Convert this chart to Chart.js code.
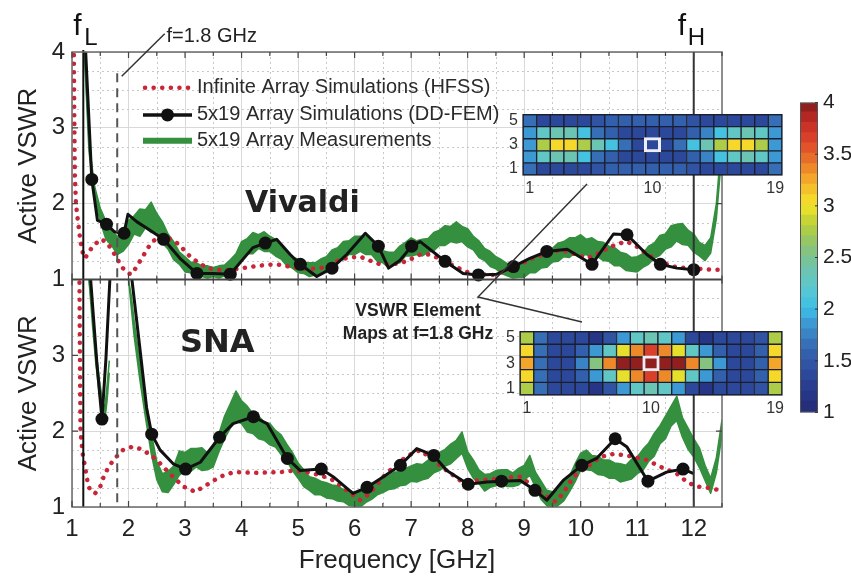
<!DOCTYPE html>
<html><head><meta charset="utf-8">
<script src="https://cdn.jsdelivr.net/npm/chart.js@4/dist/chart.umd.min.js"></script>
<style>
html,body{margin:0;padding:0;background:#fff;}
#wrap{position:relative;width:851px;height:576px;overflow:hidden;background:#fff;}
canvas{position:absolute;}
#main{left:0;top:0;width:851px;height:576px;}
#hmTop{left:500px;top:100px;width:290px;height:100px;}
#hmBot{left:497px;top:317px;width:293px;height:103px;}
#cbar{left:795px;top:85px;width:56px;height:345px;}
</style></head><body>
<div id="wrap">
<canvas id="main" width="851" height="576"></canvas>
<canvas id="hmTop" width="290" height="100"></canvas>
<canvas id="hmBot" width="293" height="103"></canvas>
<canvas id="cbar" width="56" height="345"></canvas>
</div>
<script>
// ---------------- data ----------------
const xTicks = [1,2,3,4,5,6,7,8,9,10,11,12];
const yTicksTop = [1,2,3,4];
const yTicksBottom = [1,2,3];
const yMinor = [1.25,1.5,1.75,2.25,2.5,2.75,3.25,3.5,3.75];
const legendLabels = ['Infinite Array Simulations (HFSS)','5x19 Array Simulations (DD-FEM)','5x19 Array Measurements'];
const xTitle = 'Frequency [GHz]';
const yTitle = 'Active VSWR';

// Vivaldi (top panel)
const vivHfssX = [1.03,1.04,1.05,1.07,1.1,1.15,1.2,1.23,1.35,1.5,1.6,1.7,1.8,1.9,2.0,2.06,2.15,2.25,2.38,2.5,2.62,2.75,2.9,3.05,3.2,3.35,3.5,3.7,3.85,4.0,4.2,4.4,4.63,4.85,5.04,5.2,5.4,5.57,5.74,5.9,6.1,6.27,6.45,6.6,6.8,7.0,7.16,7.3,7.5,7.75,7.99,8.2,8.45,8.7,8.93,9.15,9.4,9.6,9.76,9.95,10.11,10.3,10.47,10.65,10.82,11.0,11.18,11.35,11.53,11.7,11.88,12.1,12.3,12.47];
const vivHfssY = [4.3,3.2,2.4,2.0,1.8,1.5,1.32,1.28,1.42,1.53,1.5,1.4,1.27,1.15,1.08,1.07,1.18,1.3,1.46,1.55,1.57,1.53,1.46,1.33,1.24,1.17,1.13,1.12,1.13,1.15,1.17,1.19,1.2,1.17,1.15,1.14,1.15,1.2,1.26,1.29,1.3,1.25,1.2,1.2,1.21,1.27,1.33,1.33,1.28,1.18,1.1,1.07,1.06,1.12,1.2,1.28,1.35,1.38,1.37,1.32,1.28,1.34,1.41,1.47,1.5,1.43,1.33,1.26,1.2,1.16,1.15,1.14,1.13,1.13];
const vivSimX = [1.21,1.35,1.45,1.61,1.75,1.92,1.99,2.15,2.32,2.62,2.91,3.21,3.5,3.8,4.2,4.42,4.62,4.86,5.04,5.33,5.6,5.86,6.19,6.42,6.6,6.8,7.01,7.16,7.6,7.92,8.19,8.52,8.81,9.1,9.4,9.76,10.2,10.58,10.82,11.17,11.41,11.7,12.0];
const vivSimY = [4.5,2.32,1.78,1.73,1.63,1.61,1.86,1.76,1.68,1.53,1.28,1.08,1.08,1.07,1.42,1.48,1.53,1.33,1.2,1.04,1.15,1.33,1.61,1.44,1.15,1.25,1.44,1.5,1.24,1.08,1.06,1.07,1.17,1.28,1.37,1.4,1.2,1.6,1.59,1.33,1.2,1.15,1.13];
const vivMarkX = [1.35,1.61,1.92,2.62,3.21,3.8,4.42,5.04,5.6,6.42,7.01,7.6,8.19,8.81,9.4,10.2,10.82,11.41,12.0];
const vivMarkY = [2.32,1.73,1.61,1.53,1.08,1.07,1.48,1.2,1.15,1.44,1.44,1.24,1.06,1.17,1.37,1.2,1.59,1.2,1.13];
const vivMeasX = [1.22,
 1.3,1.4,1.5,1.6,1.7,1.8,1.9,2.0,2.1,2.2,
 2.3,2.4,2.5,2.6,2.7,2.8,2.9,3.0,3.1,3.2,
 3.3,3.4,3.5,3.6,3.7,3.8,3.9,4.0,4.1,4.2,
 4.3,4.4,4.5,4.6,4.7,4.8,4.9,5.0,5.1,5.2,
 5.3,5.4,5.5,5.6,5.7,5.8,5.9,6.0,6.1,6.2,
 6.3,6.4,6.5,6.6,6.7,6.8,6.9,7.0,7.1,7.2,
 7.3,7.4,7.5,7.6,7.7,7.8,7.9,8.0,8.1,8.2,
 8.3,8.4,8.5,8.6,8.7,8.8,8.9,9.0,9.1,9.2,
 9.3,9.4,9.5,9.6,9.7,9.8,9.9,10.0,10.1,10.2,
 10.3,10.4,10.5,10.6,10.7,10.8,10.9,11.0,11.1,11.2,
 11.3,11.4,11.5,11.6,11.7,11.8,11.9,12.0,12.1,12.2,
 12.3,12.4,12.5];
const vivMeasY = [4.0,
 2.75,2.15,1.85,1.65,1.55,1.45,1.47,1.62,1.72,1.75,
 1.8,1.82,1.75,1.62,1.5,1.38,1.28,1.2,1.16,1.13,
 1.11,1.1,1.1,1.1,1.12,1.16,1.26,1.38,1.44,1.48,
 1.5,1.5,1.47,1.42,1.35,1.28,1.22,1.18,1.15,1.13,
 1.14,1.17,1.22,1.28,1.33,1.38,1.42,1.45,1.47,1.45,
 1.42,1.35,1.3,1.26,1.28,1.33,1.4,1.43,1.42,1.42,
 1.45,1.5,1.55,1.58,1.6,1.62,1.6,1.55,1.48,1.4,
 1.33,1.27,1.22,1.17,1.13,1.11,1.11,1.13,1.17,1.2,
 1.24,1.28,1.32,1.36,1.4,1.42,1.45,1.45,1.43,1.42,
 1.4,1.37,1.34,1.3,1.27,1.23,1.2,1.2,1.25,1.32,
 1.38,1.45,1.5,1.57,1.62,1.6,1.55,1.48,1.4,1.35,
 1.45,1.9,2.8];
const vivMeasSpread = [0.04,
 .06,.08,.09,.12,.1,.12,.1,.16,.12,.18,
 .12,.2,.12,.14,.1,.12,.08,.1,.07,.09,
 .07,.08,.06,.08,.07,.1,.08,.12,.1,.14,
 .09,.13,.1,.11,.08,.1,.07,.09,.07,.09,
 .08,.1,.08,.11,.09,.12,.09,.12,.1,.12,
 .09,.11,.08,.1,.08,.11,.09,.12,.09,.11,
 .09,.12,.1,.13,.1,.14,.1,.12,.09,.11,
 .08,.1,.08,.09,.08,.09,.08,.1,.08,.11,
 .09,.12,.09,.12,.1,.13,.1,.14,.1,.13,
 .1,.12,.1,.12,.09,.11,.09,.1,.09,.12,
 .1,.13,.1,.14,.11,.14,.1,.12,.09,.1,
 .1,.1,.1];

// SNA (bottom panel)
const snaHfssX = [1.13,1.14,1.15,1.19,1.23,1.29,1.35,1.41,1.5,1.58,1.73,1.9,2.05,2.14,2.32,2.5,2.73,2.97,3.18,3.38,3.62,3.86,4.27,4.68,4.92,5.16,5.39,5.63,5.86,6.1,6.27,6.51,6.75,6.95,7.16,7.39,7.63,7.87,8.22,8.58,8.93,9.16,9.4,9.55,9.69,9.87,10.11,10.35,10.58,10.82,11.17,11.41,11.7,11.88,12.05,12.28,12.47];
const snaHfssY = [4.3,3.0,2.0,1.7,1.53,1.27,1.2,1.18,1.27,1.44,1.62,1.75,1.79,1.79,1.72,1.62,1.44,1.27,1.2,1.29,1.4,1.46,1.45,1.46,1.48,1.46,1.42,1.35,1.22,1.09,1.18,1.4,1.57,1.68,1.75,1.62,1.48,1.35,1.35,1.38,1.4,1.27,1.14,1.07,1.18,1.4,1.53,1.66,1.7,1.68,1.62,1.53,1.44,1.33,1.27,1.25,1.22];
const snaSimX = [1.25,1.33,1.44,1.53,1.6,1.67,1.72,2.0,2.06,2.2,2.32,2.41,2.56,2.79,3.01,3.27,3.61,3.85,4.21,4.45,4.81,5.04,5.41,5.62,5.97,6.22,6.51,6.81,7.1,7.4,7.63,8.01,8.34,8.6,8.93,9.19,9.4,9.69,10.02,10.28,10.61,10.82,11.19,11.52,11.81,12.0];
const snaSimY = [4.6,4.0,2.9,2.16,2.95,4.0,4.6,4.6,4.0,3.1,2.31,1.96,1.75,1.57,1.5,1.59,1.92,2.1,2.19,2.1,1.64,1.48,1.5,1.4,1.18,1.26,1.4,1.55,1.77,1.68,1.48,1.3,1.33,1.34,1.35,1.22,1.09,1.35,1.55,1.64,1.9,1.79,1.34,1.46,1.5,1.44];
const snaMarkX = [1.53,2.41,3.01,3.61,4.21,4.81,5.41,6.22,6.81,7.4,8.01,8.6,9.19,10.02,10.61,11.19,11.81];
const snaMarkY = [2.16,1.96,1.5,1.92,2.19,1.64,1.5,1.26,1.55,1.68,1.3,1.34,1.22,1.55,1.9,1.34,1.5];
const snaMeasX = [1.3,1.36,1.42,1.48,1.54,1.58,1.62,1.66,1.8,2.0,2.05,
 2.1,2.2,2.3,2.4,2.5,2.6,2.7,2.8,2.9,3.0,
 3.1,3.2,3.3,3.4,3.5,3.6,3.7,3.8,3.9,4.0,
 4.1,4.2,4.3,4.4,4.5,4.6,4.7,4.8,4.9,5.0,
 5.1,5.2,5.3,5.4,5.5,5.6,5.7,5.8,5.9,6.0,
 6.1,6.2,6.3,6.4,6.5,6.6,6.7,6.8,6.9,7.0,
 7.1,7.2,7.3,7.4,7.5,7.6,7.7,7.8,7.9,8.0,
 8.1,8.2,8.3,8.4,8.5,8.6,8.7,8.8,8.9,9.0,
 9.1,9.2,9.3,9.4,9.5,9.6,9.7,9.8,9.9,10.0,
 10.1,10.2,10.3,10.4,10.5,10.6,10.7,10.8,10.9,11.0,
 11.1,11.2,11.3,11.4,11.5,11.6,11.7,11.8,11.9,12.0,
 12.1,12.2,12.3,12.4,12.5];
const snaMeasY = [4.0,3.5,3.0,2.6,2.3,2.22,2.5,2.85,null,4.0,3.7,
 3.35,2.8,2.3,1.85,1.48,1.32,1.33,1.42,1.58,1.6,
 1.62,1.65,1.63,1.6,1.66,1.85,2.05,2.2,2.33,2.25,
 2.16,2.1,2.05,2.0,1.96,1.9,1.82,1.72,1.6,1.48,
 1.38,1.31,1.27,1.25,1.22,1.2,1.18,1.15,1.12,1.1,
 1.1,1.14,1.2,1.25,1.3,1.32,1.35,1.37,1.4,1.44,
 1.45,1.46,1.5,1.55,1.6,1.65,1.7,1.76,1.85,1.62,
 1.5,1.4,1.32,1.35,1.38,1.4,1.38,1.36,1.4,1.45,
 1.55,1.36,1.22,1.12,1.08,1.12,1.2,1.3,1.45,1.6,
 1.62,1.58,1.55,1.52,1.5,1.48,1.45,1.45,1.5,1.55,
 1.62,1.72,1.82,1.95,2.05,2.2,2.3,2.05,1.9,1.78,
 1.65,1.45,1.28,1.55,2.05];
const snaMeasSpread = [0,.08,.1,.1,.1,.08,.1,.08,null,0,.08,
 .1,.12,.12,.14,.12,.12,.14,.12,.16,.12,
 .15,.12,.15,.11,.13,.12,.15,.16,.2,.15,
 .17,.13,.15,.12,.14,.11,.13,.11,.12,.1,
 .11,.09,.11,.09,.1,.09,.1,.08,.1,.09,
 .1,.08,.1,.09,.11,.09,.11,.09,.11,.1,
 .12,.1,.12,.1,.12,.11,.13,.12,.14,.11,
 .12,.09,.11,.09,.1,.09,.11,.09,.11,.1,
 .13,.1,.12,.1,.12,.1,.12,.1,.12,.11,
 .13,.1,.12,.1,.12,.1,.12,.1,.13,.11,
 .14,.12,.15,.12,.15,.13,.16,.13,.14,.12,
 .13,.1,.1,.1,.1];

// VSWR element maps at f = 1.8 GHz (rows listed 5 -> 1, columns 1 -> 19)
const heatCols = ['1','2','3','4','5','6','7','8','9','10','11','12','13','14','15','16','17','18','19'];
const heatRows = [5,4,3,2,1];
const heatColTicks = [1,10,19];
const heatRowTicks = [1,3,5];
const vivMap = [
 [1.7,1.3,1.3,1.35,1.4,1.45,1.5,1.5,1.55,1.55,1.55,1.5,1.45,1.4,1.35,1.3,1.3,1.3,1.7],
 [1.85,2.3,2.35,2.35,2.05,1.7,1.5,1.4,1.3,1.3,1.3,1.4,1.5,1.75,2.05,2.3,2.35,2.3,1.85],
 [1.85,2.7,3.0,3.0,2.75,2.35,2.0,1.6,1.35,1.4,1.3,1.6,2.0,2.35,2.75,3.0,3.0,2.7,1.85],
 [1.85,2.3,2.35,2.35,2.05,1.7,1.5,1.4,1.3,1.3,1.3,1.4,1.5,1.75,2.05,2.3,2.35,2.3,1.85],
 [1.7,1.3,1.3,1.35,1.4,1.45,1.5,1.5,1.55,1.55,1.55,1.5,1.45,1.4,1.35,1.3,1.3,1.3,1.7]
];
const snaMap = [
 [2.75,1.6,1.35,1.35,1.3,1.2,1.45,1.8,2.2,2.4,2.2,1.8,1.35,1.1,1.3,1.3,1.3,1.45,2.75],
 [3.0,1.6,1.3,1.35,1.55,1.85,2.25,2.95,3.35,3.6,3.35,2.95,2.25,1.85,1.5,1.35,1.3,1.5,3.0],
 [3.3,1.6,1.3,1.4,1.75,2.5,3.35,3.95,3.95,4.0,3.95,3.95,3.35,2.5,1.85,1.4,1.3,1.5,3.2],
 [3.0,1.6,1.3,1.35,1.55,1.85,2.25,2.95,3.35,3.6,3.35,2.95,2.25,1.85,1.5,1.35,1.3,1.5,3.0],
 [2.75,1.6,1.35,1.35,1.3,1.2,1.45,1.8,2.2,2.4,2.2,1.8,1.35,1.1,1.3,1.3,1.3,1.45,2.75]
];
const selectedCell = {row: 3, col: '10'};
const cbTicks = [1,1.5,2,2.5,3,3.5,4];
const cbMin = 1, cbMax = 4, cbLevels = 30;

// ---------------- styles ----------------
const FONT = "'Liberation Sans', Arial, Helvetica, sans-serif";
const BOLD = "'DejaVu Sans', 'Liberation Sans', sans-serif";
const RED = 'rgb(200,38,56)';
const GREEN = 'rgb(52,143,62)';
const BLACK = '#111111';
const cmapStops = [[1.0,[35,42,117]],[1.2,[39,57,140]],[1.4,[46,77,159]],[1.6,[53,102,176]],[1.8,[60,140,204]],[2.0,[60,192,230]],[2.2,[92,200,207]],[2.4,[112,196,168]],[2.6,[140,196,114]],[2.8,[184,207,58]],[3.0,[245,228,40]],[3.2,[245,181,42]],[3.4,[236,122,42]],[3.6,[224,70,42]],[3.8,[197,45,38]],[4.0,[126,26,26]]];
function cmap(v){
  v = Math.max(cbMin, Math.min(cbMax, v));
  for (let i = 0; i < cmapStops.length - 1; i++){
    const [a, ca] = cmapStops[i], [b, cb] = cmapStops[i+1];
    if (v <= b){ const t = (v - a) / (b - a);
      return 'rgb(' + ca.map((c, k) => Math.round(c + (cb[k] - c) * t)).join(',') + ')'; }
  }
  return 'rgb(126,26,26)';
}
const step = (cbMax - cbMin) / cbLevels;
function cmapBand(v){ const l = Math.min(cbLevels - 1, Math.max(0, Math.floor((v - cbMin) / step))); return cmap(cbMin + (l + 0.5) * step); }

const pts = (xs, ys) => xs.map((x, i) => ({x, y: ys[i]}));
const band = (xs, ys, sp, sign) => xs.map((x, i) => ({x, y: ys[i] == null ? null : ys[i] + sign * sp[i]}));

function lineSet(data, axis, extra){
  return Object.assign({data, yAxisID: axis, clip: 0, pointRadius: 0, pointHoverRadius: 0, borderJoinStyle: 'round', tension: 0, fill: false}, extra);
}

const datasets = [
  // Vivaldi
  lineSet(pts(vivMarkX, vivMarkY), 'yT', {showLine: false, clip: 4, pointRadius: 6.5, pointHoverRadius: 6.5, pointBackgroundColor: BLACK, pointBorderColor: BLACK, pointBorderWidth: 0, order: 0}),
  lineSet(pts(vivSimX, vivSimY), 'yT', {borderColor: BLACK, borderWidth: 3, order: 1}),
  lineSet(pts(vivHfssX, vivHfssY), 'yT', {borderColor: RED, borderWidth: 4.5, borderDash: [0.1, 8.5], borderCapStyle: 'round', order: 2}),
  lineSet(band(vivMeasX, vivMeasY, vivMeasSpread, 1), 'yT', {borderColor: GREEN, backgroundColor: GREEN, borderWidth: 1.5, fill: '+1', order: 3}),
  lineSet(band(vivMeasX, vivMeasY, vivMeasSpread, -1), 'yT', {borderColor: GREEN, borderWidth: 1.5, order: 4}),
  // SNA
  lineSet(pts(snaMarkX, snaMarkY), 'yB', {showLine: false, clip: 4, pointRadius: 6.5, pointHoverRadius: 6.5, pointBackgroundColor: BLACK, pointBorderColor: BLACK, pointBorderWidth: 0, order: 0}),
  lineSet(pts(snaSimX, snaSimY), 'yB', {borderColor: BLACK, borderWidth: 3, order: 1}),
  lineSet(pts(snaHfssX, snaHfssY), 'yB', {borderColor: RED, borderWidth: 4.5, borderDash: [0.1, 8.5], borderCapStyle: 'round', order: 2}),
  lineSet(band(snaMeasX, snaMeasY, snaMeasSpread, 1), 'yB', {borderColor: GREEN, backgroundColor: GREEN, borderWidth: 1.5, fill: '+1', order: 3}),
  lineSet(band(snaMeasX, snaMeasY, snaMeasSpread, -1), 'yB', {borderColor: GREEN, borderWidth: 1.5, order: 4})
];

function yScale(ticks){
  return {
    type: 'linear', min: 1, max: 4, position: 'left', stack: 'panels', stackWeight: 1,
    afterBuildTicks: s => { s.ticks = ticks.map(v => ({value: v})); },
    afterFit: s => { s.width = 72; },
    grid: {color: '#d9d9d9', lineWidth: 1, drawTicks: false},
    border: {display: false},
    ticks: {font: {family: FONT, size: 24}, color: '#222', padding: 7},
    title: {display: true, text: yTitle, font: {family: FONT, size: 26}, color: '#222', padding: {top: 13, bottom: 0}}
  };
}

const deco = {
  id: 'deco',
  beforeDatasetsDraw(chart){
    const {ctx, chartArea: a, scales: {x, yT, yB}} = chart;
    ctx.save();
    ctx.strokeStyle = '#c8c8c8'; ctx.lineWidth = 1; ctx.setLineDash([2, 3]);
    ctx.beginPath();
    for (let v = 1.5; v < 12.5; v += 1){ const p = Math.round(x.getPixelForValue(v)) + 0.5; ctx.moveTo(p, a.top); ctx.lineTo(p, a.bottom); }
    for (const s of [yT, yB]) for (const v of yMinor){ const p = Math.round(s.getPixelForValue(v)) + 0.5; ctx.moveTo(a.left, p); ctx.lineTo(a.right, p); }
    ctx.stroke();
    ctx.restore();
  },
  afterDatasetsDraw(chart){
    const {ctx, chartArea: a, scales: {x, yT}} = chart;
    ctx.save();
    ctx.lineWidth = 2;
    ctx.strokeStyle = BLACK;
    let p = x.getPixelForValue(1.2);
    ctx.beginPath(); ctx.moveTo(p, a.top - 2); ctx.lineTo(p, a.bottom); ctx.stroke();
    ctx.strokeStyle = '#333';
    p = x.getPixelForValue(12);
    ctx.beginPath(); ctx.moveTo(p, a.top); ctx.lineTo(p, a.bottom); ctx.stroke();
    ctx.strokeStyle = '#555'; ctx.setLineDash([9, 6]);
    p = x.getPixelForValue(1.8);
    ctx.beginPath(); ctx.moveTo(p, yT.getPixelForValue(3.72)); ctx.lineTo(p, a.bottom); ctx.stroke();
    ctx.restore();
  },
  afterDraw(chart){
    const {ctx, chartArea: a, scales: {x, yT, yB}} = chart;
    const mid = yT.bottom;
    ctx.save();
    // panel frames
    ctx.strokeStyle = '#6a6a6a'; ctx.lineWidth = 1.5;
    ctx.strokeRect(a.left, a.top, a.right - a.left, a.bottom - a.top);
    ctx.strokeStyle = '#444'; ctx.lineWidth = 2;
    ctx.beginPath(); ctx.moveTo(a.left, mid); ctx.lineTo(a.right, mid); ctx.stroke();
    // tick marks
    ctx.strokeStyle = '#444'; ctx.lineWidth = 1.2;
    ctx.beginPath();
    for (let v = 1; v <= 12.5; v += 0.5){
      const p = x.getPixelForValue(v), L = Number.isInteger(v) ? 6 : 4;
      ctx.moveTo(p, a.top); ctx.lineTo(p, a.top + L);
      ctx.moveTo(p, mid - L); ctx.lineTo(p, mid + L);
      ctx.moveTo(p, a.bottom); ctx.lineTo(p, a.bottom - L);
    }
    for (const s of [yT, yB]) for (const v of [2, 3]){
      const p = s.getPixelForValue(v);
      ctx.moveTo(a.left, p); ctx.lineTo(a.left + 6, p);
      ctx.moveTo(a.right, p); ctx.lineTo(a.right - 6, p);
    }
    ctx.stroke();

    // legend
    const lx0 = a.left + 71, lx1 = a.left + 120, tx = a.left + 125;
    const ly = [yT.getPixelForValue(3.53), yT.getPixelForValue(3.17), yT.getPixelForValue(2.83)];
    ctx.lineCap = 'round';
    ctx.strokeStyle = RED; ctx.lineWidth = 4.5; ctx.setLineDash([0.1, 8.5]);
    ctx.beginPath(); ctx.moveTo(lx0 + 2, ly[0]); ctx.lineTo(lx1, ly[0]); ctx.stroke();
    ctx.setLineDash([]); ctx.lineCap = 'butt';
    ctx.strokeStyle = BLACK; ctx.lineWidth = 3.5;
    ctx.beginPath(); ctx.moveTo(lx0, ly[1]); ctx.lineTo(lx1, ly[1]); ctx.stroke();
    ctx.fillStyle = BLACK; ctx.beginPath(); ctx.arc((lx0 + lx1) / 2, ly[1], 6.5, 0, Math.PI * 2); ctx.fill();
    ctx.strokeStyle = GREEN; ctx.lineWidth = 6;
    ctx.beginPath(); ctx.moveTo(lx0, ly[2]); ctx.lineTo(lx1, ly[2]); ctx.stroke();
    ctx.fillStyle = '#2b2b2b'; ctx.font = '20px ' + FONT; ctx.textBaseline = 'middle'; ctx.textAlign = 'left';
    legendLabels.forEach((t, i) => ctx.fillText(t, tx, ly[i]));

    // panel names
    ctx.fillStyle = '#222';
    ctx.font = 'bold 30px ' + BOLD;
    ctx.fillText('Vivaldi', x.getPixelForValue(4.06), yT.getPixelForValue(1.99));
    ctx.font = 'bold 32px ' + BOLD;
    ctx.fillText('SNA', x.getPixelForValue(2.91), yB.getPixelForValue(3.16));

    // band edge labels
    ctx.textBaseline = 'alphabetic';
    ctx.fillStyle = '#111';
    const fl = x.getPixelForValue(1.2), fh = x.getPixelForValue(12);
    ctx.font = '30px ' + FONT; ctx.fillText('f', fl - 10, 35); ctx.fillText('f', fh - 16, 35);
    ctx.font = '24px ' + FONT; ctx.fillText('L', fl + 1, 45); ctx.fillText('H', fh - 6, 45);

    // f = 1.8 GHz annotation
    ctx.strokeStyle = '#333'; ctx.lineWidth = 1.5;
    ctx.beginPath();
    ctx.moveTo(x.getPixelForValue(1.8) + 4.5, yT.getPixelForValue(3.68));
    ctx.lineTo(x.getPixelForValue(2.64), yT.getPixelForValue(4.24));
    ctx.stroke();
    ctx.font = '20px ' + FONT; ctx.textBaseline = 'middle'; ctx.fillStyle = '#222';
    ctx.fillText('f=1.8 GHz', x.getPixelForValue(2.67), yT.getPixelForValue(4.2));

    // element map callout
    ctx.strokeStyle = '#333'; ctx.lineWidth = 1.5;
    ctx.beginPath(); ctx.moveTo(587, 184); ctx.lineTo(478, 297); ctx.lineTo(582, 322); ctx.stroke();
    ctx.textAlign = 'center'; ctx.fillStyle = '#222';
    ctx.font = 'bold 17.5px ' + FONT;
    ctx.fillText('VSWR Element', 418, 311);
    ctx.fillText('Maps at f=1.8 GHz', 418, 334);
    ctx.restore();
  }
};

new Chart(document.getElementById('main'), {
  type: 'line',
  data: {datasets},
  options: {
    responsive: false, animation: false, devicePixelRatio: 1,
    layout: {padding: {top: 52, right: 129, left: 0, bottom: 0}},
    plugins: {legend: {display: false}, tooltip: {enabled: false}},
    scales: {
      x: {
        type: 'linear', min: 1, max: 12.5, position: 'bottom',
        afterBuildTicks: s => { s.ticks = xTicks.map(v => ({value: v})); },
        afterFit: s => { s.height = 69; },
        grid: {color: '#d9d9d9', lineWidth: 1, drawTicks: false},
        border: {display: false},
        ticks: {font: {family: FONT, size: 24}, color: '#222', padding: 8, maxRotation: 0, autoSkip: false},
        title: {display: true, text: xTitle, font: {family: FONT, size: 26}, color: '#222', padding: {top: 0, bottom: 0}}
      },
      yB: yScale(yTicksBottom),
      yT: yScale(yTicksTop)
    }
  },
  plugins: [deco]
});

// ---------------- heat maps ----------------
const heatFrame = {
  id: 'heatFrame',
  afterDatasetsDraw(chart){
    const {ctx, chartArea: a} = chart;
    ctx.save(); ctx.strokeStyle = '#1b1e2e'; ctx.lineWidth = 1.2;
    ctx.strokeRect(a.left, a.top, a.right - a.left, a.bottom - a.top); ctx.restore();
  }
};
function makeHeat(id, map){
  const ds = map.map((row, r) => ({
    data: row.map((v, c) => ({x: heatCols[c], y: [heatRows[r] - 0.5, heatRows[r] + 0.5]})),
    backgroundColor: row.map(cmapBand),
    borderColor: '#1b1e2e', borderWidth: 1, borderSkipped: false,
    barPercentage: 1, categoryPercentage: 1, grouped: false
  }));
  ds.unshift({
    data: [{x: selectedCell.col, y: [selectedCell.row - 0.62, selectedCell.row + 0.62]}],
    backgroundColor: 'rgba(0,0,0,0)', borderColor: '#eeeef6', borderWidth: 3, borderSkipped: false,
    barPercentage: 1.25, categoryPercentage: 1, grouped: false
  });
  return new Chart(document.getElementById(id), {
    type: 'bar',
    data: {labels: heatCols, datasets: ds},
    options: {
      responsive: false, animation: false, devicePixelRatio: 1,
      layout: {padding: {top: 8, right: 8, left: 0, bottom: 0}},
      plugins: {legend: {display: false}, tooltip: {enabled: false}},
      scales: {
        x: {
          grid: {display: false, drawTicks: false}, border: {display: false},
          afterFit: s => { s.height = 25; },
          ticks: {autoSkip: false, maxRotation: 0, padding: 4, font: {family: FONT, size: 16}, color: '#333',
            callback(v, i){ return heatColTicks.includes(i + 1) ? this.getLabelForValue(v) : ''; }}
        },
        y: {
          type: 'linear', min: 0.5, max: 5.5, grid: {display: false, drawTicks: false}, border: {display: false},
          afterFit: s => { s.width = 23; },
          afterBuildTicks: s => { s.ticks = heatRowTicks.map(v => ({value: v})); },
          ticks: {padding: 5, font: {family: FONT, size: 16}, color: '#333'}
        }
      }
    },
    plugins: [heatFrame]
  });
}
makeHeat('hmTop', vivMap);
makeHeat('hmBot', snaMap);

// ---------------- colour bar ----------------
const cbBands = [];
for (let i = 0; i < cbLevels; i++) cbBands.push([cbMin + i * step, cbMin + (i + 1) * step]);
new Chart(document.getElementById('cbar'), {
  type: 'bar',
  data: {labels: ['VSWR'], datasets: cbBands.map(b => ({
    data: [[b[0], Math.min(cbMax, b[1] + 0.01)]], backgroundColor: cmap((b[0] + b[1]) / 2),
    borderWidth: 0, barPercentage: 1, categoryPercentage: 1, grouped: false
  }))},
  options: {
    responsive: false, animation: false, devicePixelRatio: 1,
    layout: {padding: {top: 10, bottom: 13, left: 5, right: 0}},
    plugins: {legend: {display: false}, tooltip: {enabled: false}},
    scales: {
      x: {display: false},
      y: {
        type: 'linear', min: cbMin, max: cbMax, position: 'right',
        afterBuildTicks: s => { s.ticks = cbTicks.map(v => ({value: v})); },
        afterFit: s => { s.width = 33; },
        grid: {display: false, drawTicks: false}, border: {display: false},
        ticks: {padding: 5, font: {family: FONT, size: 21}, color: '#222', callback: v => String(+v)}
      }
    }
  },
  plugins: [{
    id: 'cbFrame',
    afterDraw(chart){
      const {ctx, chartArea: a, scales: {y}} = chart;
      ctx.save(); ctx.strokeStyle = '#555'; ctx.lineWidth = 1;
      ctx.strokeRect(a.left + 0.5, a.top + 0.5, a.right - a.left - 1, a.bottom - a.top - 1);
      ctx.strokeStyle = '#333'; ctx.beginPath();
      cbTicks.forEach(v => { const p = y.getPixelForValue(v); ctx.moveTo(a.right, p); ctx.lineTo(a.right - 3, p); });
      ctx.stroke(); ctx.restore();
    }
  }]
});
</script>
</body></html>
